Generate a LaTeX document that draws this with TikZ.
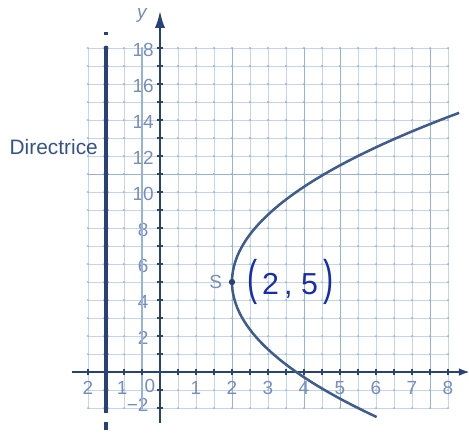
\documentclass[tikz,border=0pt]{standalone}
\usepackage{fontspec}
\setmainfont{Liberation Sans}
\usetikzlibrary{arrows.meta,positioning}
\definecolor{gridblue}{RGB}{196,212,242}
\definecolor{gridmid}{RGB}{150,176,224}
\definecolor{axisblue}{RGB}{38,66,118}
\definecolor{curveblue}{RGB}{62,92,140}
\definecolor{numblue}{RGB}{118,142,190}
\definecolor{wordblue}{RGB}{52,82,142}
\definecolor{penblue}{RGB}{22,46,172}
\tikzset{
  gridline/.style={gridblue, line width=0.6pt},
  gridheavy/.style={gridmid, line width=0.7pt},
  gridknot/.style={fill=gridmid},
  axisline/.style={axisblue, line width=2.2pt},
  axistick/.style={axisblue, line width=0.9pt},
  directrixline/.style={axisblue, line width=2.4pt},
  parabola/.style={curveblue, line width=2pt},
  numlabel/.style={numblue, font=\fontsize{15}{17}\selectfont, inner sep=0pt},
  wordlabel/.style={wordblue, font=\fontsize{16.5}{18}\selectfont, inner sep=0pt},
  penlabel/.style={penblue, font=\fontsize{24}{26}\selectfont, inner sep=0pt},
  vertexdot/.style={circle, fill=axisblue, minimum size=5pt, inner sep=0pt},
}

\begin{document}
\begin{tikzpicture}[x=1cm,y=0.5cm]
  \useasboundingbox (-4.444,-3.389) rectangle (8.583,20.667);
  % squared paper
  \draw[gridline] (-2,-2) grid[xstep=0.5,ystep=1] (8,18);
  \foreach \gx in {2,4,5,7.5}
    \draw[gridheavy] (\gx,-2) -- (\gx,18);
  \draw[gridheavy] (-2,11) -- (8,11);
  \foreach \i in {-4,...,16}
    \foreach \j in {-2,...,18}
      \fill[gridknot] (\i/2,\j) circle (0.8pt);

  % scale numbers
  \foreach \v in {1,...,8}
    \node[numlabel] (xnum\v) at (\v,-0.9) {\v};
  \node[numlabel] (xnuma) at (-2,-0.9) {2};
  \node[numlabel] (xnumb) at (-1.05,-0.9) {1};
  \node[numlabel] (xnumo) at (-0.28,-0.75) {0};
  \foreach \v in {2,4,...,18}
    \node[numlabel] (ynum\v) at (-0.47,\v-0.1) {\v};
  \node[numlabel] (ynumneg) at (-0.62,-1.85) {−2};
  \draw[gridmid, line width=1.2pt] (-0.5,-2) -- (-0.5,18);

  % axes
  \draw[axisline, -{Latex[length=9pt,width=6pt]}] (-2.45,0) -- (8.62,0);
  \draw[axisline, -{Latex[length=14pt,width=8pt]}] (0,-2.85) -- (0,20.1);
  \foreach \j in {-2,...,18}
    \draw[axistick] (-0.09,\j) -- (0.09,\j);
  \foreach \i in {-4,...,16}
    \draw[axistick] (\i/2,-0.18) -- (\i/2,0.18);

  % directrice
  \draw[directrixline] (-1.5,18.9) -- (-1.5,18.7) (-1.5,18) -- (-1.5,-2.3)
    (-1.5,-2.8) -- (-1.5,-3.2);
  \foreach \j in {-2,...,18}
    \fill[axisblue] (-1.5,\j) circle (1.9pt);
  \node[wordlabel, anchor=east] (directrice) at (-1.72,12.5) {Directrice};
  \node[numlabel] (ylabel) at (-0.5,19.83) {\itshape y};

  % parabola
  \draw[parabola, domain=-2.5:14.4, samples=80, variable=\t]
    plot ({2+(\t-5)^2/14},\t);
  \node[vertexdot] (vertex) at (2,5) {};
  \node[numlabel, left=5pt of vertex] (slabel) {S};
  \node[penlabel, right=9pt of vertex] (vertexcoord)
    {\scalebox{1}[1.6]{(}\,2\,, 5\,\scalebox{1}[1.6]{)}};
\end{tikzpicture}
\end{document}
